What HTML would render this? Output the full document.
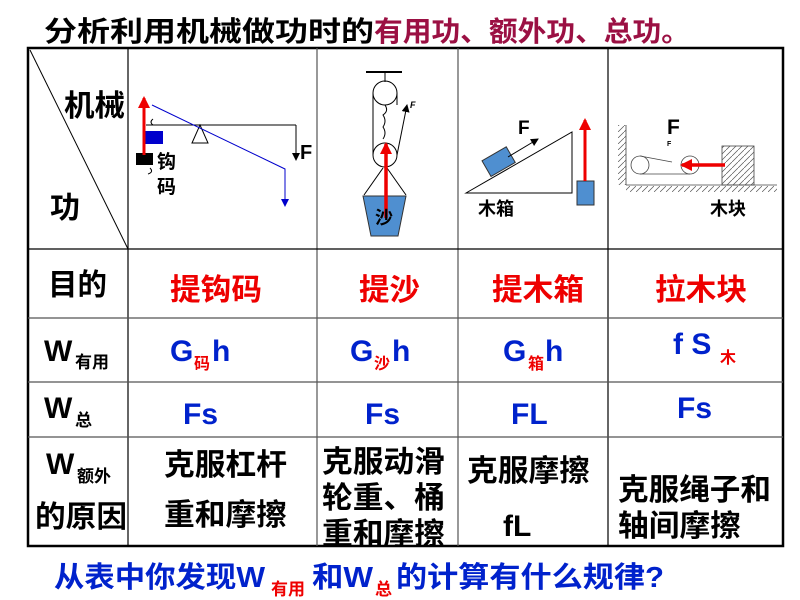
<!DOCTYPE html>
<html><head><meta charset="utf-8"><style>
html,body{margin:0;padding:0;background:#fff;width:800px;height:600px;overflow:hidden}
svg text{font-family:"Liberation Sans","Noto Sans CJK SC",sans-serif;font-weight:bold}
</style></head><body>
<svg width="800" height="600" viewBox="0 0 800 600" xmlns="http://www.w3.org/2000/svg">
<defs>
<marker id="ab" markerWidth="8" markerHeight="8" refX="7" refY="4" orient="auto" markerUnits="userSpaceOnUse"><path d="M0,0 L8,4 L0,8z" fill="#00c"/></marker>
<marker id="ak" markerWidth="8" markerHeight="8" refX="7" refY="4" orient="auto" markerUnits="userSpaceOnUse"><path d="M0,0 L8,4 L0,8z" fill="#000"/></marker>
<marker id="ar" markerWidth="12" markerHeight="12" refX="10" refY="6" orient="auto" markerUnits="userSpaceOnUse"><path d="M0,0 L12,6 L0,12z" fill="#e00"/></marker>
<pattern id="hat" width="6" height="6" patternUnits="userSpaceOnUse"><path d="M0,6 L6,0" stroke="#555" stroke-width="0.7"/></pattern>
</defs>
<text x="44" y="41" font-size="28" fill="#000" textLength="330" lengthAdjust="spacingAndGlyphs">分析利用机械做功时的</text>
<text x="374" y="41" font-size="28" fill="#9b1043" textLength="316" lengthAdjust="spacingAndGlyphs">有用功、额外功、总功。</text>
<g stroke="#000" fill="none">
<rect x="28" y="48" width="755" height="498" stroke-width="2.5"/>
<g stroke-width="1.2">
<line x1="128" y1="48" x2="128" y2="546"/>
<line x1="317" y1="48" x2="317" y2="546" stroke="#555"/>
<line x1="458" y1="48" x2="458" y2="546" stroke="#555"/>
<line x1="608" y1="48" x2="608" y2="546"/>
<line x1="28" y1="249" x2="783" y2="249"/>
<line x1="28" y1="318" x2="783" y2="318" stroke="#555"/>
<line x1="28" y1="382" x2="783" y2="382" stroke="#555"/>
<line x1="28" y1="437" x2="783" y2="437" stroke="#555"/>
<line x1="30" y1="50" x2="128" y2="249" stroke-width="1"/>
</g>
</g>
<text x="64" y="116" font-size="30" textLength="61" lengthAdjust="spacingAndGlyphs">机械</text>
<text x="50" y="218" font-size="30">功</text>
<g>
<line x1="146" y1="125" x2="296" y2="125" stroke="#000" stroke-width="1"/>
<line x1="296" y1="125" x2="296" y2="160" stroke="#000" stroke-width="1" marker-end="url(#ak)"/>
<path d="M192,143 L200,125 L208,143z" fill="#fff" stroke="#000"/>
<polyline points="152,105 285,169 285,206" fill="none" stroke="#00c" stroke-width="1" marker-end="url(#ab)"/>
<rect x="145" y="131" width="18" height="13" fill="#00c"/>
<rect x="136" y="153" width="17" height="12" fill="#000"/>
<path d="M153,119 q-4,3 0,6 M150,168 q4,4 -2,6" stroke="#000" fill="none"/>
<line x1="144" y1="155" x2="144" y2="98" stroke="#e00" stroke-width="3" marker-end="url(#ar)"/>
<text x="300" y="159" font-size="20">F</text>
<text x="157" y="168" font-size="19">钩</text>
<text x="157" y="193" font-size="19">码</text>
</g>
<g stroke="#000" fill="none" stroke-width="1">
<line x1="366" y1="72" x2="402" y2="72" stroke-width="2"/>
<line x1="385" y1="72" x2="385" y2="82"/>
<circle cx="385" cy="93" r="12"/>
<circle cx="385" cy="155" r="12"/>
<line x1="373" y1="93" x2="373" y2="155"/>
<line x1="397" y1="93" x2="397" y2="105"/>
<line x1="397" y1="155" x2="407" y2="105" marker-end="url(#ak)"/>
<path d="M385,105 q4,6 -2,10 q4,6 0,12 q4,6 0,12"/>
<line x1="383" y1="168" x2="364" y2="195"/>
<line x1="387" y1="168" x2="406" y2="195"/>
</g>
<text x="410" y="108" font-size="9" font-style="italic" font-weight="normal">F</text>
<path d="M363,196 L406,196 L398,236 L371,236z" fill="#4f8fd0" stroke="#333"/>
<line x1="386" y1="218" x2="386" y2="144" stroke="#e00" stroke-width="3.5" marker-end="url(#ar)"/>
<text x="375" y="224" font-size="18">沙</text>
<path d="M466,193 L572,132 L572,193z" fill="#fff" stroke="#000" stroke-width="1"/>
<g transform="rotate(-30 500 162)"><rect x="485" y="152" width="28" height="18" fill="#4f8fd0" stroke="#333"/></g>
<line x1="508" y1="157" x2="538" y2="139" stroke="#000" stroke-width="1" marker-end="url(#ak)"/>
<text x="518" y="134" font-size="19">F</text>
<rect x="577" y="181" width="17" height="24" fill="#4f8fd0" stroke="#333"/>
<line x1="585" y1="181" x2="585" y2="120" stroke="#e00" stroke-width="3" marker-end="url(#ar)"/>
<text x="478" y="215" font-size="18">木箱</text>
<g stroke="#444" fill="none" stroke-width="0.8">
<line x1="626" y1="125" x2="626" y2="185"/>
<line x1="626" y1="185" x2="777" y2="185"/>
<rect x="618" y="125" width="8" height="60" fill="url(#hat)" stroke="none"/>
<rect x="626" y="186" width="151" height="6" fill="url(#hat)" stroke="none"/>
<rect x="722" y="146" width="32" height="39" fill="url(#hat)"/>
<circle cx="640" cy="165" r="9"/>
<circle cx="690" cy="165" r="9"/>
<line x1="640" y1="156" x2="672" y2="162"/>
<line x1="640" y1="174" x2="690" y2="174"/>
</g>
<text x="667" y="146" font-size="7" font-weight="normal">F</text>
<line x1="725" y1="165" x2="682" y2="165" stroke="#e00" stroke-width="3.5" marker-end="url(#ar)"/>
<text x="667" y="134" font-size="21">F</text>
<text x="710" y="215" font-size="18">木块</text>
<text x="48" y="295" font-size="30" textLength="59" lengthAdjust="spacingAndGlyphs">目的</text>
<g fill="#e00" font-size="30">
<text x="170" y="300" textLength="92" lengthAdjust="spacingAndGlyphs">提钩码</text>
<text x="359" y="300" textLength="61" lengthAdjust="spacingAndGlyphs">提沙</text>
<text x="492" y="300" textLength="92" lengthAdjust="spacingAndGlyphs">提木箱</text>
<text x="655" y="300" textLength="92" lengthAdjust="spacingAndGlyphs">拉木块</text>
</g>
<text x="44" y="361" font-size="30">W</text><text x="75" y="368" font-size="17">有用</text>
<text x="44" y="418" font-size="30">W</text><text x="75" y="426" font-size="17">总</text>
<text x="46" y="474" font-size="30">W</text><text x="77" y="482" font-size="17">额外</text>
<text x="35" y="527" font-size="30" textLength="92" lengthAdjust="spacingAndGlyphs">的原因</text>
<g fill="#0022cc" font-size="30">
<text x="170" y="361">G</text><text x="212" y="361">h</text>
<text x="350" y="361">G</text><text x="392" y="361">h</text>
<text x="503" y="361">G</text><text x="545" y="361">h</text>
<text x="673" y="354">f S</text>
<text x="183" y="424">Fs</text><text x="365" y="424">Fs</text><text x="511" y="424">FL</text><text x="677" y="418">Fs</text>
</g>
<g fill="#e00" font-size="16"><text x="194" y="369">码</text><text x="374" y="369">沙</text><text x="528" y="369">箱</text><text x="720" y="363">木</text></g>
<g font-size="30">
<text x="164" y="475" textLength="123" lengthAdjust="spacingAndGlyphs">克服杠杆</text>
<text x="164" y="525" textLength="123" lengthAdjust="spacingAndGlyphs">重和摩擦</text>
<text x="322" y="472" textLength="123" lengthAdjust="spacingAndGlyphs">克服动滑</text>
<text x="322" y="508" textLength="123" lengthAdjust="spacingAndGlyphs">轮重、桶</text>
<text x="322" y="544" textLength="123" lengthAdjust="spacingAndGlyphs">重和摩擦</text>
<text x="467" y="481" textLength="123" lengthAdjust="spacingAndGlyphs">克服摩擦</text>
<text x="503" y="536">fL</text>
<text x="618" y="500" textLength="153" lengthAdjust="spacingAndGlyphs">克服绳子和</text>
<text x="618" y="536" textLength="123" lengthAdjust="spacingAndGlyphs">轴间摩擦</text>
</g>
<g fill="#0022cc" font-size="29">
<text x="54" y="587" textLength="211" lengthAdjust="spacingAndGlyphs">从表中你发现W</text>
<text x="312" y="587" textLength="61" lengthAdjust="spacingAndGlyphs">和W</text>
<text x="396" y="587" textLength="268" lengthAdjust="spacingAndGlyphs">的计算有什么规律?</text>
</g>
<g fill="#e00" font-size="17"><text x="271" y="595">有用</text><text x="375" y="595">总</text></g>
</svg>
</body></html>
